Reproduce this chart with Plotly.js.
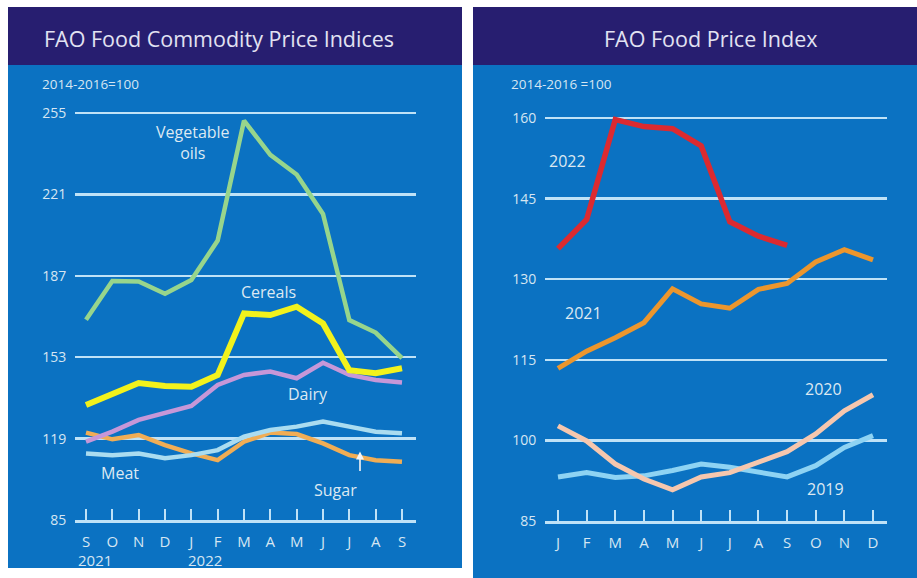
<!DOCTYPE html>
<html>
<head>
<meta charset="utf-8">
<script src="https://cdn.plot.ly/plotly-3.0.1.min.js"></script>
<style>html,body{margin:0;padding:0;background:#fff;}#chart{width:917px;height:578px;}</style>
</head>
<body>
<div id="chart"></div>
<script>
// ---- Left panel data: FAO Food Commodity Price Indices (Sep 2021 - Sep 2022)
const commodityMonths = ["S","O","N","D","J","F","M","A","M","J","J","A","S"];
const vegetableOils = [168.6, 184.8, 184.6, 179.5, 185.2, 201.7, 251.8, 237.5, 229.3, 212.8, 168.5, 163.3, 152.6];
const cereals       = [133.0, 137.9, 142.2, 141.0, 140.7, 145.6, 171.3, 170.6, 174.1, 167.1, 147.6, 146.3, 148.4];
const dairy         = [117.7, 121.9, 126.8, 129.6, 132.6, 141.4, 145.6, 147.0, 144.2, 150.7, 145.6, 143.5, 142.4];
const meat          = [112.8, 112.1, 112.8, 110.8, 112.1, 114.2, 119.8, 122.6, 124.0, 126.1, 124.0, 121.9, 121.2];
const sugar         = [121.5, 118.7, 120.5, 116.3, 112.8, 110.0, 117.7, 121.5, 120.9, 117.0, 112.1, 110.0, 109.3];
const commodityTicks = [85, 119, 153, 187, 221, 255];

// ---- Right panel data: FAO Food Price Index by year
const yearMonths = ["J","F","M","A","M","J","J","A","S","O","N","D"];
const ffpi2022 = [135.7, 141.1, 159.7, 158.4, 158.0, 154.8, 140.7, 138.0, 136.3];
const ffpi2021 = [113.4, 116.6, 119.1, 121.9, 128.2, 125.4, 124.6, 128.1, 129.2, 133.2, 135.5, 133.6];
const ffpi2020 = [102.7, 99.9, 95.6, 92.8, 90.8, 93.2, 94.0, 95.9, 97.9, 101.2, 105.5, 108.5];
const ffpi2019 = [93.2, 94.0, 93.1, 93.4, 94.4, 95.6, 95.0, 94.0, 93.2, 95.3, 98.7, 100.9];
const ffpiTicks = [85, 100, 115, 130, 145, 160];

const W = 917, H = 578;
const px = v => v / W;
const py = v => 1 - v / H;
const idx = arr => arr.map((_, i) => i);

const NAVY = '#271e70', BLUE = '#0b72c2', GRID = '#bfe2f7', TXT = '#d6e6f2', LBL = '#dde9f2';
const FONT = 'Open Sans, sans-serif';

function tr(y, color, width, xa, ya) {
  return {x: idx(y), y: y, type: 'scatter', mode: 'lines', xaxis: xa, yaxis: ya,
          line: {color: color, width: width}, hoverinfo: 'skip', showlegend: false};
}

const data = [
  tr(sugar, '#f0ad55', 4.5, 'x', 'y'),
  tr(meat, '#aadcf0', 4.5, 'x', 'y'),
  tr(dairy, '#c697d8', 4.5, 'x', 'y'),
  tr(cereals, '#f2f21c', 6, 'x', 'y'),
  tr(vegetableOils, '#97d58c', 4.5, 'x', 'y'),
  tr(ffpi2019, '#8ed3f3', 5, 'x2', 'y2'),
  tr(ffpi2020, '#f6c7ae', 5, 'x2', 'y2'),
  tr(ffpi2021, '#ec962d', 5, 'x2', 'y2'),
  tr(ffpi2022, '#dc2a30', 5.5, 'x2', 'y2')
];

const yBase = {
  showgrid: true, gridcolor: GRID, gridwidth: 2.5, zeroline: false, showline: false,
  ticks: 'outside', ticklen: 5, tickcolor: 'rgba(0,0,0,0)',
  tickfont: {family: FONT, size: 14, color: TXT}, fixedrange: true
};
const xBase = {
  showgrid: false, zeroline: false, showline: true, linecolor: GRID, linewidth: 2.5,
  ticks: 'inside', ticklen: 11, tickwidth: 2, tickcolor: GRID, ticklabelstandoff: 6,
  tickfont: {family: FONT, size: 15, color: TXT}, fixedrange: true
};

// left axis geometry (pixels)
const L_x0 = 75, L_x1 = 416, L_t0 = 86, L_t12 = 402;
const L_step = (L_t12 - L_t0) / 12;
const L_yb = 520, L_yt = 113;            // pixel of 85 and 255
const L_ppu = (L_yb - L_yt) / (255 - 85);
const L_top = 257;                         // extend range so top gridline is drawn
// right axis geometry (pixels)
const R_x0 = 545, R_x1 = 887, R_t0 = 558, R_t11 = 873;
const R_step = (R_t11 - R_t0) / 11;
const R_yb = 521, R_yt = 118;
const R_ppu = (R_yb - R_yt) / (160 - 85);
const R_top = 161;

const layout = {
  width: W, height: H,
  margin: {l: 0, r: 0, t: 0, b: 0},
  paper_bgcolor: '#ffffff', plot_bgcolor: 'rgba(0,0,0,0)',
  showlegend: false,
  xaxis: Object.assign({}, xBase, {
    domain: [px(L_x0), px(L_x1)], anchor: 'y',
    range: [-(L_t0 - L_x0) / L_step, 12 + (L_x1 - L_t12) / L_step],
    tickvals: idx(commodityMonths), ticktext: commodityMonths
  }),
  yaxis: Object.assign({}, yBase, {
    domain: [py(L_yb), py(L_yt - (L_top - 255) * L_ppu)], anchor: 'x',
    range: [85, L_top], tickvals: commodityTicks
  }),
  xaxis2: Object.assign({}, xBase, {
    domain: [px(R_x0), px(R_x1)], anchor: 'y2',
    range: [-(R_t0 - R_x0) / R_step, 11 + (R_x1 - R_t11) / R_step],
    tickvals: idx(yearMonths), ticktext: yearMonths
  }),
  yaxis2: Object.assign({}, yBase, {
    domain: [py(R_yb), py(R_yt - (R_top - 160) * R_ppu)], anchor: 'x2',
    range: [85, R_top], tickvals: ffpiTicks
  }),
  shapes: [
    {type: 'rect', xref: 'paper', yref: 'paper', x0: px(8), x1: px(462), y0: py(65), y1: py(7), fillcolor: NAVY, line: {width: 0}, layer: 'below'},
    {type: 'rect', xref: 'paper', yref: 'paper', x0: px(8), x1: px(462), y0: py(568), y1: py(65), fillcolor: BLUE, line: {width: 0}, layer: 'below'},
    {type: 'rect', xref: 'paper', yref: 'paper', x0: px(473), x1: px(917), y0: py(65), y1: py(7), fillcolor: NAVY, line: {width: 0}, layer: 'below'},
    {type: 'rect', xref: 'paper', yref: 'paper', x0: px(473), x1: px(917), y0: py(578), y1: py(65), fillcolor: BLUE, line: {width: 0}, layer: 'below'}
  ],
  annotations: []
};

function note(text, x, y, opts) {
  layout.annotations.push(Object.assign({
    text: text, xref: 'paper', yref: 'paper', x: px(x), y: py(y),
    xanchor: 'center', yanchor: 'middle', showarrow: false,
    font: {family: FONT, size: 16, color: LBL}
  }, opts || {}));
}

// titles
note('FAO Food Commodity Price Indices', 42, 38, {xanchor: 'left', font: {family: FONT, size: 21.5, color: '#e2e2f2'}});
note('FAO Food Price Index', 710, 38, {font: {family: FONT, size: 21.5, color: '#e2e2f2'}});
note('2014-2016=100', 40, 84, {xanchor: 'left', font: {family: FONT, size: 13.5, color: TXT}});
note('2014-2016 =100', 509, 84, {xanchor: 'left', font: {family: FONT, size: 13.5, color: TXT}});

// left series labels
note('Vegetable<br>oils', 193, 142);
note('Cereals', 268, 292);
note('Dairy', 308, 394);
note('Meat', 120, 473);
note('Sugar', 335, 490);
note('2021', 95, 560, {font: {family: FONT, size: 15, color: TXT}});
note('2022', 205, 560, {font: {family: FONT, size: 15, color: TXT}});

// arrow near sugar
layout.annotations.push({
  xref: 'x', yref: 'y', x: (360 - L_t0) / L_step, y: 113.6, ax: 0, ay: 21,
  showarrow: true, arrowhead: 2, arrowsize: 1, arrowwidth: 1.6, arrowcolor: '#f4f4f4', text: ''
});

// right series labels
note('2022', 567, 161);
note('2021', 583, 313);
note('2020', 823, 389);
note('2019', 825, 489);

Plotly.newPlot('chart', data, layout, {displayModeBar: false, staticPlot: true});
</script>
</body>
</html>
